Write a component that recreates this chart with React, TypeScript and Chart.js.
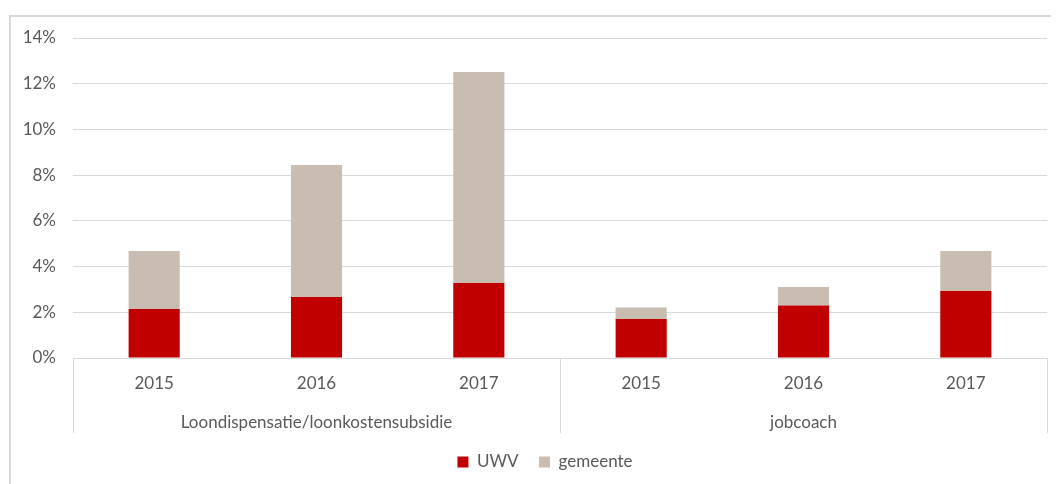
import React, { useEffect, useRef } from "react";
import { Chart, registerables } from "chart.js";

Chart.register(...registerables);

const years = ["2015", "2016", "2017", "2015", "2016", "2017"];
const groups = ["Loondispensatie/loonkostensubsidie", "jobcoach"];
const uwv = [2.14, 2.67, 3.28, 1.71, 2.3, 2.93];
const gemeente = [2.54, 5.77, 9.23, 0.5, 0.81, 1.75];
const yTicks = [0, 2, 4, 6, 8, 10, 12, 14];

const FONT = "Lato";
const TEXT = "#595959";
const GRID = "#d9d9d9";

const separatorPlugin = {
  id: "separators",
  afterLayout(chart: any) {
    if (chart.legend) {
      chart.legend.left += 10;
      chart.legend.right += 10;
    }
  },
  afterDraw(chart: any) {
    const x = chart.scales.x;
    const x2 = chart.scales.x2;
    const n = years.length;
    const half = (x.getPixelForValue(1) - x.getPixelForValue(0)) / 2;
    const idx = [0, 3, n];
    const ctx = chart.ctx;
    ctx.save();
    ctx.strokeStyle = GRID;
    ctx.lineWidth = 1;
    idx.forEach((i) => {
      const px =
        i < n ? x.getPixelForValue(i) - half : x.getPixelForValue(n - 1) + half;
      const xx = Math.round(px) + 0.5;
      ctx.beginPath();
      ctx.moveTo(xx, chart.chartArea.bottom);
      ctx.lineTo(xx, x2.bottom);
      ctx.stroke();
    });
    ctx.restore();
  },
};

export default function App() {
  const ref = useRef<HTMLCanvasElement | null>(null);

  useEffect(() => {
    if (!ref.current) return;
    const chart = new Chart(ref.current, {
      type: "bar",
      data: {
        labels: years,
        datasets: [
          {
            label: "UWV",
            data: uwv,
            backgroundColor: "#c00000",
            barPercentage: 0.315,
            categoryPercentage: 1,
          },
          {
            label: "gemeente",
            data: gemeente,
            backgroundColor: "#c9bdb2",
            barPercentage: 0.315,
            categoryPercentage: 1,
          },
        ],
      },
      options: {
        animation: false,
        responsive: false,
        maintainAspectRatio: false,
        layout: { padding: { top: 21, right: 12, left: 12, bottom: 3.5 } },
        plugins: {
          tooltip: { enabled: false },
          legend: {
            position: "bottom",
            labels: {
              boxWidth: 11,
              boxHeight: 11,
              padding: 20.5,
              color: TEXT,
              font: { family: FONT, size: 17 },
            },
          },
        },
        scales: {
          x: {
            stacked: true,
            grid: { display: false },
            border: { display: false },
            ticks: {
              color: TEXT,
              font: { family: FONT, size: 17 },
              padding: 7,
              maxRotation: 0,
            },
            afterFit: (s: any) => {
              s.height = 40;
            },
          },
          x2: {
            axis: "x",
            type: "category",
            labels: groups,
            position: "bottom",
            offset: true,
            grid: { display: false },
            border: { display: false },
            ticks: {
              color: TEXT,
              font: { family: FONT, size: 17 },
              padding: 6,
              maxRotation: 0,
            },
            afterFit: (s: any) => {
              s.height = 35;
            },
          },
          y: {
            stacked: true,
            min: 0,
            max: 14,
            afterBuildTicks: (s: any) => {
              s.ticks = yTicks.map((v) => ({ value: v }));
            },
            grid: {
              color: GRID,
              lineWidth: 1,
              drawTicks: true,
              tickLength: 12,
              tickColor: "rgba(0,0,0,0)",
            },
            border: { display: false },
            ticks: {
              color: TEXT,
              font: { family: FONT, size: 17 },
              padding: 5,
              callback: (v: any) => v + "%",
            },
            afterFit: (s: any) => {
              s.width = 50;
            },
          },
        },
      },
      plugins: [separatorPlugin],
    } as any);
    return () => chart.destroy();
  }, []);

  return (
    <div
      style={{
        position: "relative",
        marginTop: 7,
        marginLeft: 1,
        width: 1050,
        height: 469,
        borderTop: "2px solid #d9d9d9",
        borderLeft: "2px solid #d9d9d9",
        boxSizing: "border-box",
        overflow: "hidden",
      }}
    >
      <canvas
        ref={ref}
        width={1048}
        height={467}
        style={{ position: "absolute", left: 0, top: 0, width: 1048, height: 467 }}
      />
    </div>
  );
}
